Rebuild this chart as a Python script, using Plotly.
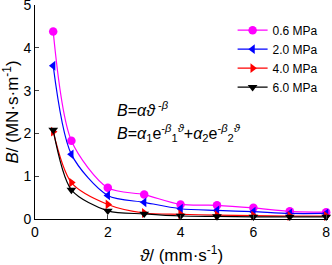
import plotly.graph_objects as go

speed = [0.5, 1, 2, 3, 4, 5, 6, 7, 8]
b_06 = [4.38, 1.83, 0.73, 0.57, 0.34, 0.32, 0.26, 0.18, 0.16]
b_20 = [3.58, 1.51, 0.55, 0.39, 0.24, 0.20, 0.17, 0.13, 0.13]
b_40 = [2.04, 0.85, 0.34, 0.14, 0.11, 0.09, 0.08, 0.07, 0.07]
b_60 = [2.08, 0.68, 0.19, 0.12, 0.07, 0.06, 0.05, 0.05, 0.05]
names = ["0.6 MPa", "2.0 MPa", "4.0 MPa", "6.0 MPa"]
x_ticks = [0, 2, 4, 6, 8]
y_ticks = [0, 1, 2, 3, 4, 5]

series = [b_06, b_20, b_40, b_60]
colors = ["#FF00FF", "#0000FF", "#FF0000", "#000000"]
symbols = ["circle", "triangle-left", "triangle-right", "triangle-down"]

fig = go.Figure()
for name, ys, c, s in zip(names, series, colors, symbols):
    fig.add_trace(go.Scatter(
        x=speed, y=ys, name=name, mode="lines+markers",
        line=dict(color=c, width=1.2, shape="spline", smoothing=0.8),
        marker=dict(symbol=s, size=8.5, color=c),
        cliponaxis=False,
    ))

font = dict(family="Arial, Liberation Sans, sans-serif", size=14, color="black")
fig.update_layout(
    width=332, height=265,
    margin=dict(l=35, r=4, t=5, b=46),
    plot_bgcolor="white", paper_bgcolor="white",
    font=font, showlegend=True,
    legend=dict(x=0.985, y=0.95, xanchor="right", yanchor="top",
                font=dict(size=12), bgcolor="rgba(0,0,0,0)",
                itemwidth=30, tracegroupgap=0),
    xaxis=dict(range=[0, 8.05], tickvals=x_ticks, showline=True, linecolor="black",
               linewidth=1, ticks="inside", ticklen=4, showgrid=False, zeroline=False,
               ticklabeloverflow="allow", automargin=False,
               title=dict(text="<i>ϑ</i>/ (mm·s<sup>-1</sup>)", standoff=19),
               mirror=False),
    yaxis=dict(range=[0, 5], tickvals=y_ticks, showline=True, linecolor="black",
               linewidth=1, ticks="inside", ticklen=4, showgrid=False, zeroline=False,
               ticklabeloverflow="allow", automargin=False,
               title=dict(text="<i>B</i>/ (MN·s·m<sup>-1</sup>)", standoff=6)),
    annotations=[
        dict(x=0.273, y=0.515, xref="paper", yref="paper", xanchor="left", yanchor="middle",
             showarrow=False, font=dict(size=16),
             text="<i>B</i>=<i>αϑ</i><sup> -<i>β</i></sup>"),
        dict(x=0.273, y=0.40, xref="paper", yref="paper", xanchor="left", yanchor="middle",
             showarrow=False, font=dict(size=16),
             text="<i>B</i>=<i>α</i><sub>1</sub>e<sup>-<i>β</i></sup><sub>1</sub><sup><i>ϑ</i></sup>+<i>α</i><sub>2</sub>e<sup>-<i>β</i></sup><sub>2</sub><sup><i>ϑ</i></sup>"),
    ],
)
fig.write_html("out.html", config={"displayModeBar": False},
               post_script="document.body.style.margin='0';document.body.style.overflow='hidden';")
